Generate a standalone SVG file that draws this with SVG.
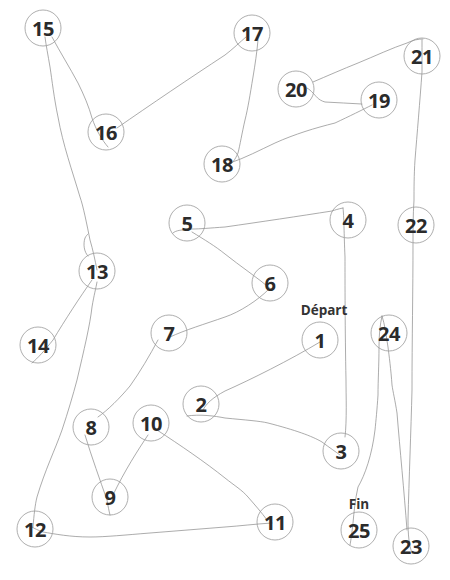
<svg xmlns="http://www.w3.org/2000/svg" width="450" height="580" viewBox="0 0 450 580">
<style>
.c{fill:none;stroke:#999;stroke-width:0.8}
.n{font-family:"Open Sans","Liberation Sans",sans-serif;font-weight:700;font-size:20px;fill:#2b2b2b;text-anchor:middle;letter-spacing:-0.5px}
.l{font-family:"Open Sans","Liberation Sans",sans-serif;font-weight:700;font-size:13.5px;fill:#333;text-anchor:middle}
#connectors path{fill:none;stroke:#888;stroke-width:0.7;stroke-linecap:round}
</style>
<rect width="450" height="580" fill="#fff"/>
<g id="connectors">
<path d="M320,342 C290,360 250,380 225,391 C212,398 206,404 203,410"/>
<path d="M187,416 C200,414 215,416 225,418 C245,420 260,421 268,423 C295,430 312,436 322,442 C330,448 336,452 340,455"/>
<path d="M345,437 C347,420 346,395 346,380 C345,330 345,280 345,257 C344,235 344,215 343,208"/>
<path d="M343,208 C338,209 335,210 332,211 C300,216 260,222 225,227 C210,228 200,229 192,229 C182,230 176,230 173,233"/>
<path d="M192,232 C205,240 215,246 225,254 C240,266 258,278 272,290"/>
<path d="M268,290 C258,300 240,312 225,317 C205,324 185,330 170,337"/>
<path d="M158,340 C150,355 140,372 130,386 C120,398 108,410 98,417"/>
<path d="M85,435 C92,458 100,480 107,500 C108,506 109,511 110,515"/>
<path d="M113,495 C125,470 138,450 148,435"/>
<path d="M157,430 C180,445 205,462 225,478 C235,486 242,490 248,497 C255,505 262,513 267,520"/>
<path d="M272,523 C255,524 240,526 225,527 C200,529 175,531 150,533 C125,535 105,537 90,537 C70,537 55,534 43,532 C38,530 35,529 32,527"/>
<path d="M33,527 C34,515 35,505 37,497 C45,470 55,450 62,430 C68,412 73,395 77,380 C84,350 90,325 92,307 C94,295 96,288 97,282"/>
<path d="M92,280 C80,297 65,320 53,340 C45,350 38,358 32,363"/>
<path d="M97,270 C95,260 93,250 90,240 C87,225 83,205 80,197 C72,170 63,145 58,117 C54,98 52,80 50,67 C48,55 46,45 45,37"/>
<path d="M88,256 C84,252 83,244 85,238 C86,236 87,235 88,234"/>
<path d="M52,37 C60,52 70,68 78,83 C84,95 89,107 92,118 C96,130 102,140 108,147"/>
<path d="M117,128 C150,105 190,78 225,55 C233,49 240,42 246,37"/>
<path d="M258,40 C257,52 255,65 253,77 C250,95 248,108 245,120 C242,133 240,145 238,153 C235,160 232,164 228,166"/>
<path d="M230,163 C245,158 260,150 275,143 C295,134 315,128 335,123 C350,116 362,110 372,105"/>
<path d="M362,104 C350,103 337,103 325,102 C318,100 316,96 313,93 C311,91 309,89 307,88"/>
<path d="M313,82 C327,76 343,69 358,63 C375,56 392,48 407,43 C413,40 418,39 423,39"/>
<path d="M422,40 C422,50 422,62 422,72 C420,100 417,135 415,160 C414,175 414,190 414,200 C413,215 413,230 413,243 C413,290 412,340 412,390 C411,430 409,480 408,520 C408,535 409,545 412,553"/>
<path d="M407,530 C404,490 400,450 397,413 C395,400 393,392 392,385 C391,370 389,355 388,347 C386,335 385,325 382,316"/>
<path d="M382,316 C380,325 379,335 379,347 C379,365 378,380 378,395 C377,410 376,420 375,430 C372,455 365,475 358,487 C355,500 354,512 353,523 C352,532 351,540 350,545"/>
</g>
<g id="n1"><circle class="c" cx="320" cy="340" r="18"/><text class="n" x="320" y="347.500">1</text></g>
<g id="n2"><circle class="c" cx="201" cy="404" r="18"/><text class="n" x="201" y="411.500">2</text></g>
<g id="n3"><circle class="c" cx="341" cy="451" r="18"/><text class="n" x="341" y="458.500">3</text></g>
<g id="n4"><circle class="c" cx="348" cy="220" r="18"/><text class="n" x="348" y="227.500">4</text></g>
<g id="n5"><circle class="c" cx="187" cy="223" r="18"/><text class="n" x="187" y="230.500">5</text></g>
<g id="n6"><circle class="c" cx="270" cy="283" r="18"/><text class="n" x="270" y="290.500">6</text></g>
<g id="n7"><circle class="c" cx="169" cy="333" r="18"/><text class="n" x="169" y="340.500">7</text></g>
<g id="n8"><circle class="c" cx="91" cy="427" r="18"/><text class="n" x="91" y="434.500">8</text></g>
<g id="n9"><circle class="c" cx="110" cy="497" r="18"/><text class="n" x="110" y="504.500">9</text></g>
<g id="n10"><circle class="c" cx="151" cy="423" r="18"/><text class="n" x="151" y="430.500">10</text></g>
<g id="n11"><circle class="c" cx="275" cy="522" r="18"/><text class="n" x="275" y="529.500">11</text></g>
<g id="n12"><circle class="c" cx="35" cy="529" r="18"/><text class="n" x="35" y="536.500">12</text></g>
<g id="n13"><circle class="c" cx="97" cy="271" r="18"/><text class="n" x="97" y="278.500">13</text></g>
<g id="n14"><circle class="c" cx="38" cy="345" r="18"/><text class="n" x="38" y="352.500">14</text></g>
<g id="n15"><circle class="c" cx="43" cy="28" r="18"/><text class="n" x="43" y="35.500">15</text></g>
<g id="n16"><circle class="c" cx="106" cy="132" r="18"/><text class="n" x="106" y="139.500">16</text></g>
<g id="n17"><circle class="c" cx="252" cy="33" r="18"/><text class="n" x="252" y="40.500">17</text></g>
<g id="n18"><circle class="c" cx="222" cy="164" r="18"/><text class="n" x="222" y="171.500">18</text></g>
<g id="n19"><circle class="c" cx="379" cy="100" r="18"/><text class="n" x="379" y="107.500">19</text></g>
<g id="n20"><circle class="c" cx="296" cy="89" r="18"/><text class="n" x="296" y="96.500">20</text></g>
<g id="n21"><circle class="c" cx="422" cy="56" r="18"/><text class="n" x="422" y="63.500">21</text></g>
<g id="n22"><circle class="c" cx="416" cy="225" r="18"/><text class="n" x="416" y="232.500">22</text></g>
<g id="n23"><circle class="c" cx="411" cy="546" r="18"/><text class="n" x="411" y="553.500">23</text></g>
<g id="n24"><circle class="c" cx="389" cy="333" r="18"/><text class="n" x="389" y="340.500">24</text></g>
<g id="n25"><circle class="c" cx="359" cy="530" r="18"/><text class="n" x="359" y="537.500">25</text></g>
<text class="l" x="324" y="315">Départ</text>
<text class="l" x="359" y="509">Fin</text>
</svg>
